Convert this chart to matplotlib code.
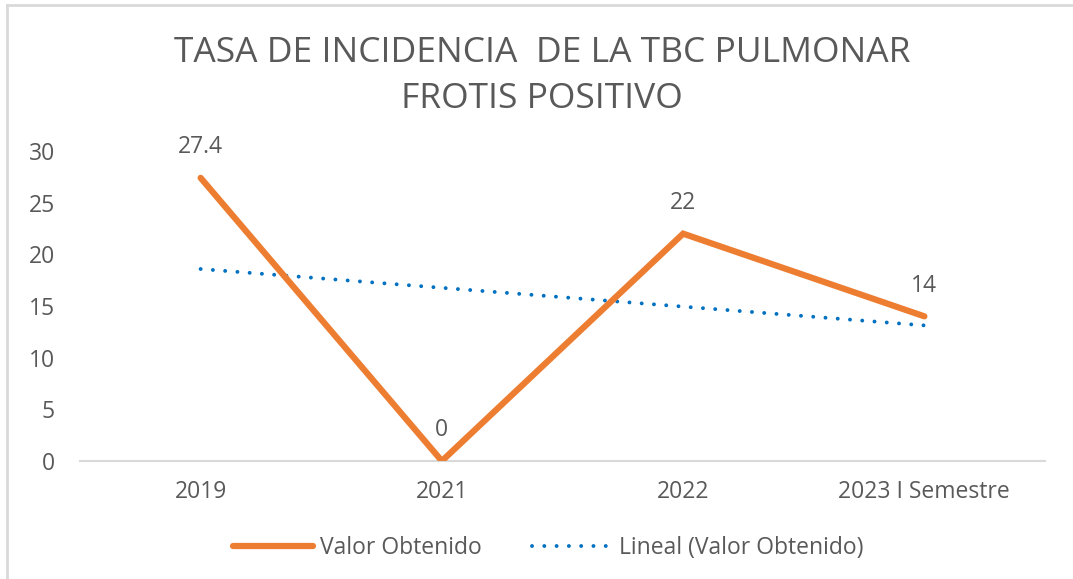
import matplotlib
matplotlib.use("Agg")
import matplotlib.pyplot as plt
from matplotlib.lines import Line2D
import numpy as np

categories = ["2019", "2021", "2022", "2023 I Semestre"]
values = [27.4, 0, 22, 14]
labels = ["27.4", "0", "22", "14"]
yticks = [0, 5, 10, 15, 20, 25, 30]

plt.rcParams['font.family'] = ['Open Sans', 'DejaVu Sans']
gray = '#595959'
orange = '#ED7D31'
blue = '#0070C0'

fig = plt.figure(figsize=(10.73, 5.79), dpi=100)
ax = fig.add_axes([80/1073, 118/579, 965/1073, 310/579])

x = np.arange(len(categories))
ax.plot(x, values, color=orange, lw=4.5, solid_capstyle='round', solid_joinstyle='miter', zorder=3)

coef = np.polyfit(x, values, 1)
trend = np.polyval(coef, x)
ax.plot(x, trend, color=blue, lw=2.8, linestyle=(0, (0.01, 3.15)), dash_capstyle='round', zorder=2)

for xi, v, lab in zip(x, values, labels):
    ax.annotate(lab, (xi, v), xytext=(0, 22), textcoords='offset points',
                ha='center', va='center', fontsize=16.5, color=gray)

ax.set_xlim(-0.5, len(categories) - 0.5)
ax.set_ylim(0, 30)
ax.set_yticks(yticks)
ax.set_xticks(x)
ax.set_xticklabels(categories)
ax.tick_params(axis='both', length=0, labelsize=16.5, colors=gray)
ax.tick_params(axis='y', pad=18)
ax.tick_params(axis='x', pad=14)
for s in ['top', 'right', 'left']:
    ax.spines[s].set_visible(False)
ax.spines['bottom'].set_color('#D9D9D9')
ax.spines['bottom'].set_linewidth(1.5)
ax.spines['bottom'].set_zorder(1)

fig.text(0.505, 1 - 53/579, "TASA DE INCIDENCIA  DE LA TBC PULMONAR", ha='center', va='center',
         fontsize=25.5, color=gray)
fig.text(0.505, 1 - 99/579, "FROTIS POSITIVO", ha='center', va='center', fontsize=25.5, color=gray)

handles = [Line2D([], [], color=orange, lw=4.5, solid_capstyle='round'),
           Line2D([], [], color=blue, lw=2.8, linestyle=(0, (0.01, 3.15)), dash_capstyle='round')]
fig.legend(handles, ["Valor Obtenido", "Lineal (Valor Obtenido)"], loc='center',
           bbox_to_anchor=(548/1073, 1 - 548/579), ncol=2, frameon=False, fontsize=16.5,
           handlelength=3.5, handletextpad=0.3, columnspacing=2.2, labelcolor=gray)

# chart border (partially visible)
fig.add_artist(Line2D([7/1073, 1], [1 - 5/579, 1 - 5/579], color='#D9D9D9', lw=2, transform=fig.transFigure))
fig.add_artist(Line2D([7/1073, 7/1073], [0, 1 - 5/579], color='#D9D9D9', lw=2, transform=fig.transFigure))

fig.savefig("out.png", dpi=100)
